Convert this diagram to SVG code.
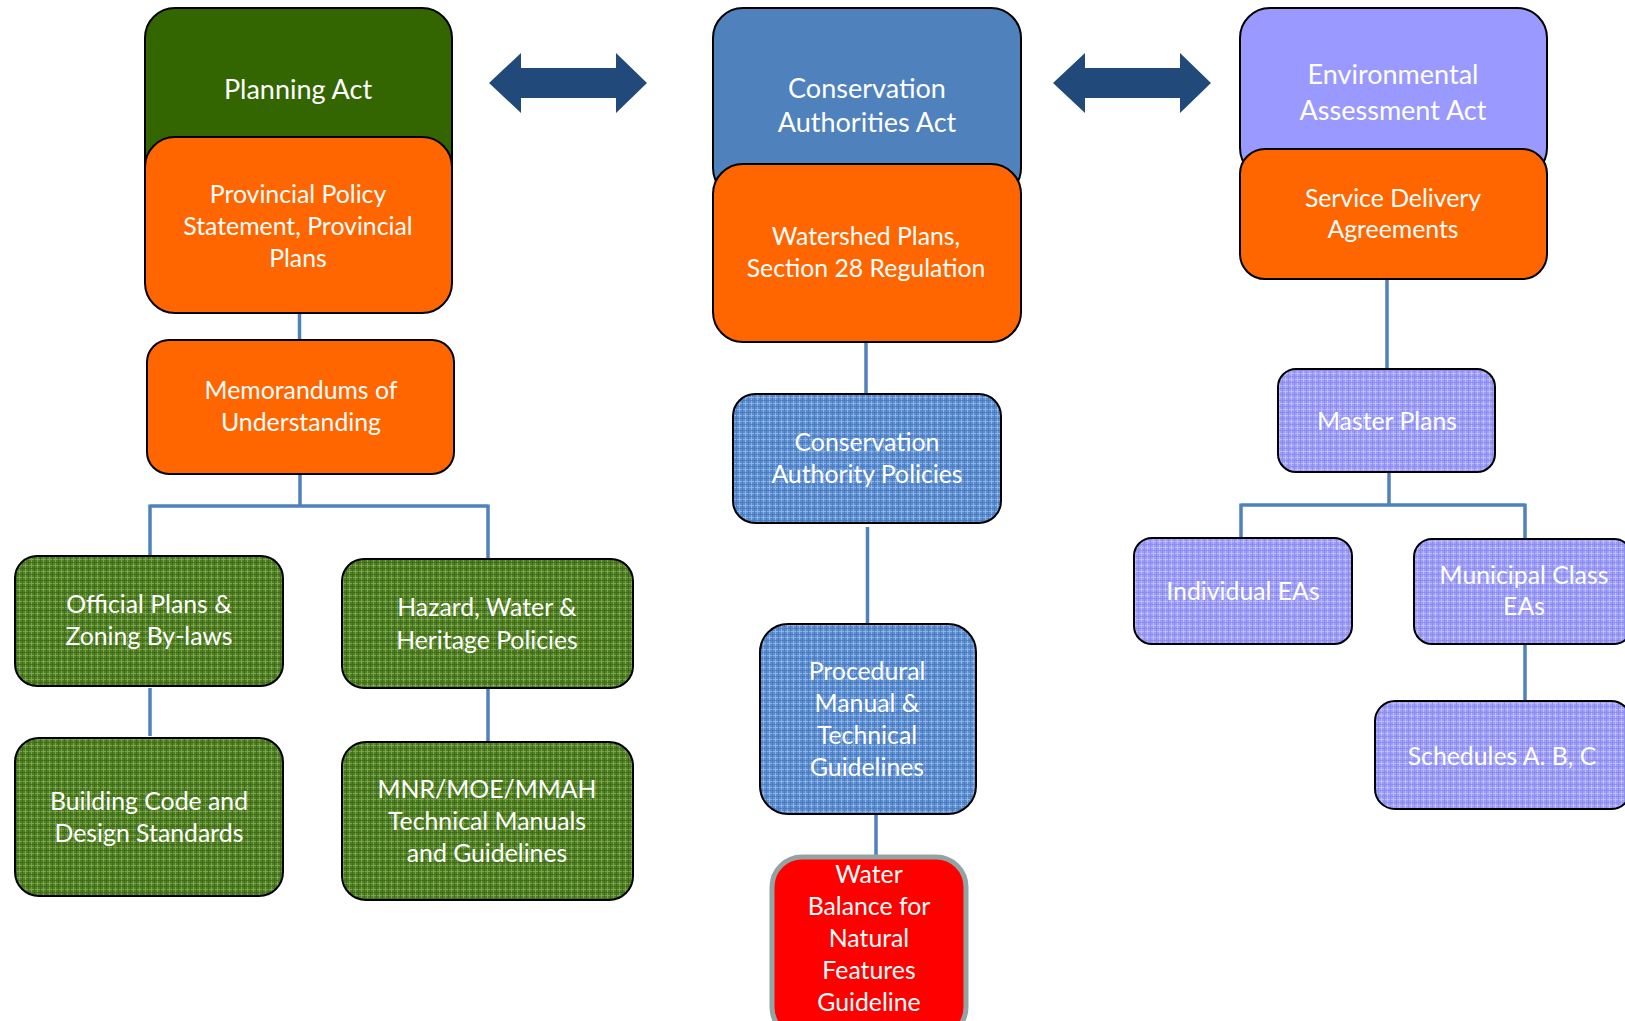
<svg xmlns="http://www.w3.org/2000/svg" width="1625" height="1021" viewBox="0 0 1625 1021">
<defs>
<pattern id="pg" width="6" height="6" patternUnits="userSpaceOnUse">
<rect width="6" height="6" fill="#4f7d25"/>
<path d="M0 1.5H6M1.5 0V6" stroke="#7aa64a" stroke-width="1"/>
<path d="M0 4.5H6M4.5 0V6" stroke="#3f6a18" stroke-width="0.8"/>
</pattern>
<pattern id="pb" width="6" height="6" patternUnits="userSpaceOnUse">
<rect width="6" height="6" fill="#5a8ccf"/>
<path d="M0 1.5H6M1.5 0V6" stroke="#8db3e6" stroke-width="1"/>
<path d="M0 4.5H6M4.5 0V6" stroke="#4a7abd" stroke-width="0.8"/>
</pattern>
<pattern id="pl" width="6" height="6" patternUnits="userSpaceOnUse">
<rect width="6" height="6" fill="#9c9cf8"/>
<path d="M0 1.5H6M1.5 0V6" stroke="#bcbcff" stroke-width="1"/>
<path d="M0 4.5H6M4.5 0V6" stroke="#8a8aee" stroke-width="0.8"/>
</pattern>
</defs>
<style>
.box{stroke:#000;stroke-width:2}
.t{font-family:Lato,"Liberation Sans",sans-serif;font-size:24.8px;fill:#fff;text-anchor:middle}
.h{font-size:27px}
.c{fill:none;stroke:#4f81bd;stroke-width:3.5}
.arr{fill:#214a7b}
</style>
<g id="connectors">
<path class="c" d="M299.5 313V340"/>
<path class="c" d="M300 474V506M150 506H488M150 504.5V556M488 504.5V559"/>
<path class="c" d="M150 688V736"/>
<path class="c" d="M488 688V742"/>
<path class="c" d="M866 342V394"/>
<path class="c" d="M867.5 527V624"/>
<path class="c" d="M876 814V862"/>
<path class="c" d="M1387 279V369"/>
<path class="c" d="M1389 472V505M1241 505H1525M1241 503.5V538M1525 503.5V541"/>
<path class="c" d="M1525 644V701"/>
</g>
<g id="arrow-1"><path class="arr" d="M489 83L521 53V68H616V53L647 83L616 113V98H521V113Z"/></g>
<g id="arrow-2"><path class="arr" d="M1053 83L1085 53V68H1180V53L1211 83L1180 113V98H1085V113Z"/></g>
<g id="planning-act">
<rect class="box" x="145" y="8" width="307" height="190" rx="30" fill="#336600"/>
<text class="t h" x="298" y="99">Planning Act</text>
</g>
<g id="provincial-policy">
<rect class="box" x="145" y="137" width="307" height="176" rx="30" fill="#ff6600"/>
<text class="t" x="298" y="203">Provincial Policy</text>
<text class="t" x="298" y="235">Statement, Provincial</text>
<text class="t" x="298" y="267">Plans</text>
</g>
<g id="memorandums">
<rect class="box" x="147" y="340" width="307" height="134" rx="22" fill="#ff6600"/>
<text class="t" x="301" y="399">Memorandums of</text>
<text class="t" x="301" y="431">Understanding</text>
</g>
<g id="official-plans">
<rect class="box" x="15" y="556" width="268" height="130" rx="22" fill="url(#pg)"/>
<text class="t" x="149" y="613">Official Plans &amp;</text>
<text class="t" x="149" y="645">Zoning By-laws</text>
</g>
<g id="hazard">
<rect class="box" x="342" y="559" width="291" height="129" rx="22" fill="url(#pg)"/>
<text class="t" x="487" y="616">Hazard, Water &amp;</text>
<text class="t" x="487" y="649">Heritage Policies</text>
</g>
<g id="building-code">
<rect class="box" x="15" y="738" width="268" height="158" rx="24" fill="url(#pg)"/>
<text class="t" x="149" y="810">Building Code and</text>
<text class="t" x="149" y="842">Design Standards</text>
</g>
<g id="mnr">
<rect class="box" x="342" y="742" width="291" height="158" rx="24" fill="url(#pg)"/>
<text class="t" x="487" y="798">MNR/MOE/MMAH</text>
<text class="t" x="487" y="830">Technical Manuals</text>
<text class="t" x="487" y="862">and Guidelines</text>
</g>
<g id="conservation-act">
<rect class="box" x="713" y="8" width="308" height="190" rx="30" fill="#4f81bd"/>
<text class="t h" x="867" y="98">Conservation</text>
<text class="t h" x="867" y="132">Authorities Act</text>
</g>
<g id="watershed">
<rect class="box" x="713" y="164" width="308" height="178" rx="30" fill="#ff6600"/>
<text class="t" x="866" y="245">Watershed Plans,</text>
<text class="t" x="866" y="277">Section 28 Regulation</text>
</g>
<g id="ca-policies">
<rect class="box" x="733" y="394" width="268" height="129" rx="22" fill="url(#pb)"/>
<text class="t" x="867" y="451">Conservation</text>
<text class="t" x="867" y="483">Authority Policies</text>
</g>
<g id="procedural">
<rect class="box" x="760" y="624" width="216" height="190" rx="28" fill="url(#pb)"/>
<text class="t" x="867" y="680">Procedural</text>
<text class="t" x="867" y="712">Manual &amp;</text>
<text class="t" x="867" y="744">Technical</text>
<text class="t" x="867" y="776">Guidelines</text>
</g>
<g id="water-balance">
<rect x="772" y="857" width="194" height="180" rx="30" fill="#ff0000" stroke="#93a3a3" stroke-width="5"/>
<text class="t" x="869" y="883">Water</text>
<text class="t" x="869" y="915">Balance for</text>
<text class="t" x="869" y="947">Natural</text>
<text class="t" x="869" y="979">Features</text>
<text class="t" x="869" y="1011">Guideline</text>
</g>
<g id="env-act">
<rect class="box" x="1240" y="8" width="307" height="170" rx="30" fill="#9999ff"/>
<text class="t h" x="1393" y="84">Environmental</text>
<text class="t h" x="1393" y="120">Assessment Act</text>
</g>
<g id="service-delivery">
<rect class="box" x="1240" y="149" width="307" height="130" rx="25" fill="#ff6600"/>
<text class="t" x="1393" y="207">Service Delivery</text>
<text class="t" x="1393" y="238">Agreements</text>
</g>
<g id="master-plans">
<rect class="box" x="1278" y="369" width="217" height="103" rx="18" fill="url(#pl)"/>
<text class="t" x="1387" y="430">Master Plans</text>
</g>
<g id="individual-eas">
<rect class="box" x="1134" y="538" width="218" height="106" rx="18" fill="url(#pl)"/>
<text class="t" x="1243" y="600">Individual EAs</text>
</g>
<g id="municipal-class">
<rect class="box" x="1414" y="539" width="218" height="105" rx="18" fill="url(#pl)"/>
<text class="t" x="1524" y="584">Municipal Class</text>
<text class="t" x="1524" y="615">EAs</text>
</g>
<g id="schedules">
<rect class="box" x="1375" y="701" width="256" height="108" rx="20" fill="url(#pl)"/>
<text class="t" x="1502" y="765">Schedules A. B, C</text>
</g>
</svg>
